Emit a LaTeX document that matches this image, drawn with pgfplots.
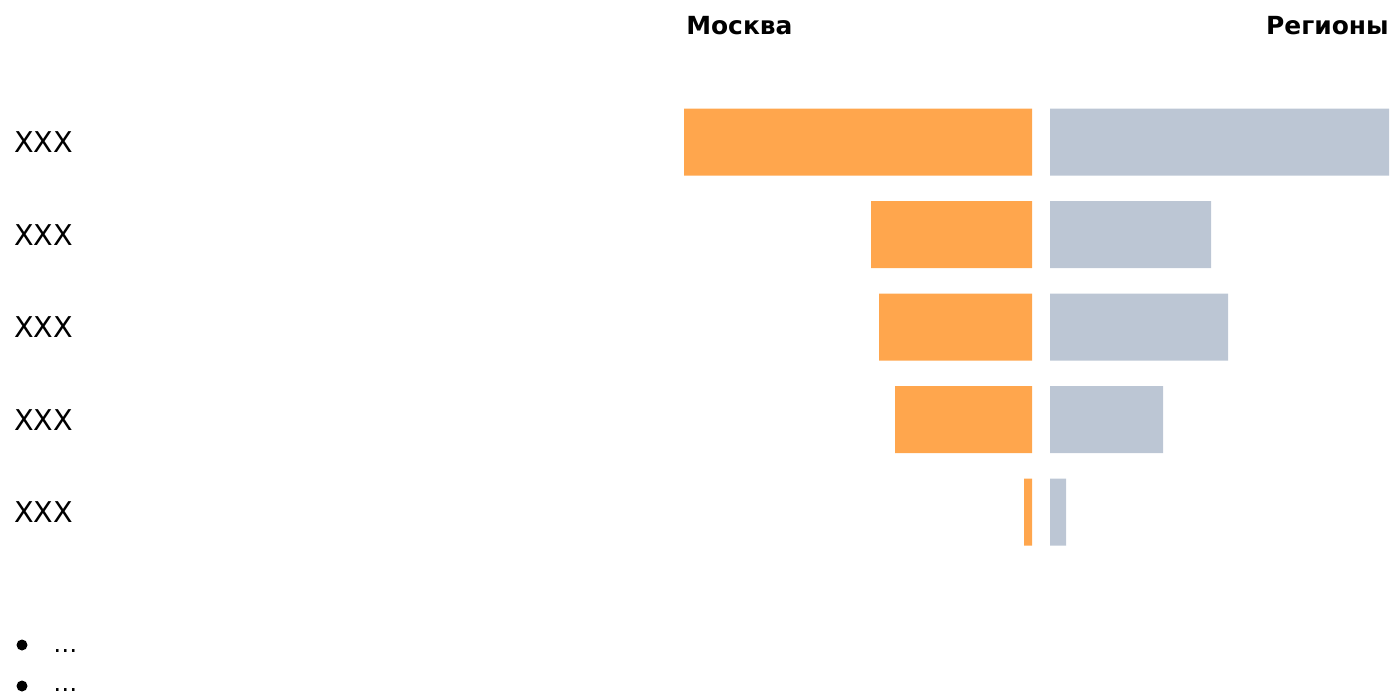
\documentclass[border=0pt]{standalone}
\usepackage{pgfplots}
\pgfplotsset{compat=1.18}
\usepackage{fontspec}
\setmainfont{DejaVu Sans}
\definecolor{mosc}{RGB}{255,166,77}
\definecolor{reg}{RGB}{188,198,212}
\begin{document}
\begin{tikzpicture}[x=0.75pt,y=-0.75pt]
\path[use as bounding box] (0,0) rectangle (1394,695);
\pgfplotsset{bars/.style={
  scale only axis, hide axis, height=346.875pt,
  ymin=0.5, ymax=5.5, y dir=reverse, enlargelimits=false,
  xbar, bar width=50.25pt, clip=false}}
\begin{axis}[bars, at={(1032,103.75)}, anchor=north east, width=261pt, xmin=-348, xmax=0]
\addplot[fill=mosc, draw=none] coordinates {(-348,1) (-161,2) (-153,3) (-137,4) (-8,5)};
\end{axis}
\begin{axis}[bars, at={(1050,103.75)}, anchor=north west, width=254.25pt, xmin=0, xmax=339]
\addplot[fill=reg, draw=none] coordinates {(339,1) (161,2) (178,3) (113,4) (16,5)};
\end{axis}
\foreach \y in {142,235,327,420,512}
  \node[anchor=west, inner sep=0pt, font=\fontsize{21.5pt}{24pt}\selectfont] at (14,\y) {XXX};
\node[anchor=base west, inner sep=0pt, font=\fontsize{18.7pt}{22pt}\selectfont\bfseries] at (686,35) {Москва};
\node[anchor=base east, inner sep=0pt, font=\fontsize{18.7pt}{22pt}\selectfont\bfseries] at (1389,35) {Регионы};
\foreach \y/\b in {645/652,686/691}{
  \fill (22,\y) circle[radius=5.5];
  \node[anchor=base west, inner sep=0pt, font=\fontsize{18pt}{22pt}\selectfont] at (53,\b) {…};
}
\end{tikzpicture}
\end{document}
